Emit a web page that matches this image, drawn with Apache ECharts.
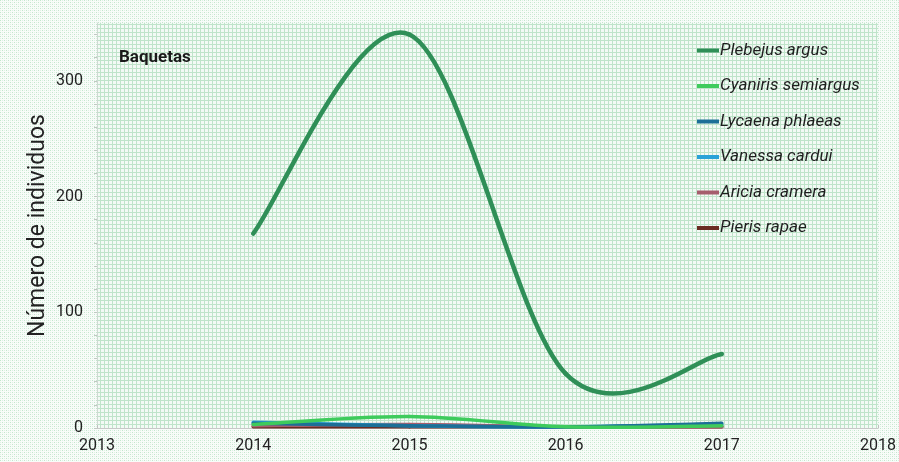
<!DOCTYPE html>
<html>
<head>
<meta charset="utf-8">
<script src="https://cdn.jsdelivr.net/npm/echarts@6/dist/echarts.min.js"></script>
<style>
html,body{margin:0;padding:0;background:#fff;}
#chart{width:899px;height:462px;}
</style>
</head>
<body>
<div id="chart"></div>
<script>
// ---- data ----
const years = [2014, 2015, 2016, 2017];
const seriesNames = ["Plebejus argus", "Cyaniris semiargus", "Lycaena phlaeas", "Vanessa cardui", "Aricia cramera", "Pieris rapae"];
const plebejusArgus = [168, 340, 47, 64];
const cyanirisSemiargus = [3, 10, 1, 2];
const lycaenaPhlaeas = [4, 2, 1, 4];
const vanessaCardui = [5, 2, 1, 3];
const ariciaCramera = [2, 3, 1, 1];
const pierisRapae = [1, 1, 1, 1];
const xTicks = [2013, 2014, 2015, 2016, 2017, 2018];
const yLabels = [0, 100, 200, 300];

const seriesValues = [plebejusArgus, cyanirisSemiargus, lycaenaPhlaeas, vanessaCardui, ariciaCramera, pierisRapae];
const colors = ["#2f8f57", "#3ecb5c", "#1c6f97", "#2aa2d8", "#a65e6e", "#6a2c22"];
const widths = [4.5, 3.5, 3.5, 3.5, 3.5, 3.5];

function makeTile(size, painter) {
  const c = document.createElement('canvas');
  c.width = size; c.height = size;
  const ctx = c.getContext('2d');
  painter(ctx);
  return c;
}
const outerTile = makeTile(4, ctx => {
  ctx.fillStyle = '#f8fcf9'; ctx.fillRect(0, 0, 4, 4);
  ctx.fillStyle = '#c3e6cd';
  ctx.fillRect(0, 0, 1, 1); ctx.fillRect(2, 2, 1, 1);
  ctx.fillStyle = '#dff1e5';
  ctx.fillRect(2, 0, 1, 1); ctx.fillRect(0, 2, 1, 1);
});
const innerTile = makeTile(4, ctx => {
  ctx.fillStyle = '#f3faf5'; ctx.fillRect(0, 0, 4, 4);
  ctx.fillStyle = '#bfe4ca';
  ctx.fillRect(0, 0, 4, 1); ctx.fillRect(0, 0, 1, 4);
});

// Smoothed (Catmull-Rom style) segment between data point k and k+1, drawn in the axis' pixel space
function makeRenderItem(si) {
  return function (params, api) {
    const k = params.dataIndex;
    const vals = seriesValues[si];
    const n = years.length;
    if (k >= n - 1) return null;
    const pt = j => api.coord([years[j], vals[j]]);
    const p0 = pt(Math.max(k - 1, 0));
    const p1 = pt(k);
    const p2 = pt(k + 1);
    const p3 = pt(Math.min(k + 2, n - 1));
    const cp1 = [p1[0] + (p2[0] - p0[0]) / 6, p1[1] + (p2[1] - p0[1]) / 6];
    const cp2 = [p2[0] - (p3[0] - p1[0]) / 6, p2[1] - (p3[1] - p1[1]) / 6];
    return {
      type: 'bezierCurve',
      shape: {x1: p1[0], y1: p1[1], x2: p2[0], y2: p2[1], cpx1: cp1[0], cpy1: cp1[1], cpx2: cp2[0], cpy2: cp2[1]},
      style: {stroke: colors[si], lineWidth: widths[si], fill: null, lineCap: 'round'}
    };
  };
}

const chart = echarts.init(document.getElementById('chart'), null, {renderer: 'canvas'});
chart.setOption({
  animation: false,
  backgroundColor: {image: outerTile, repeat: 'repeat'},
  textStyle: {fontFamily: 'Roboto, "Noto Sans", sans-serif'},
  grid: {
    left: 97, right: 14, top: 23, bottom: 34,
    show: true,
    backgroundColor: {image: innerTile, repeat: 'repeat'},
    borderWidth: 0
  },
  title: {
    text: 'Baquetas',
    left: 114, top: 44,
    textStyle: {fontSize: 17, fontWeight: 'bold', color: '#1a1a1a', fontFamily: 'Roboto, sans-serif'}
  },
  legend: {
    orient: 'vertical',
    left: 692, top: 37,
    itemGap: 18.5,
    itemWidth: 22, itemHeight: 4,
    icon: 'rect',
    data: seriesNames,
    textStyle: {fontSize: 17, fontStyle: 'italic', color: '#1e1e1e', padding: [0, 0, 0, -4]}
  },
  xAxis: {
    type: 'value',
    min: xTicks[0], max: xTicks[xTicks.length - 1], interval: 1,
    axisLine: {show: true, lineStyle: {color: '#c8c8c8', width: 1}},
    axisTick: {show: true, inside: true, length: 3, lineStyle: {color: '#c0c0c0'}},
    splitLine: {show: false},
    axisLabel: {fontSize: 16, color: '#222', margin: 10, formatter: v => String(v)}
  },
  yAxis: {
    type: 'value',
    min: 0, max: 350, interval: 20,
    name: 'Número de individuos',
    nameLocation: 'middle',
    nameGap: 47,
    nameMoveOverlap: false,
    nameTextStyle: {fontSize: 23, color: '#222'},
    axisLine: {show: true, lineStyle: {color: '#cfd8d2', width: 1}},
    axisTick: {show: true, length: 3, lineStyle: {color: '#c0c8c2'}},
    splitLine: {show: false},
    axisLabel: {
      fontSize: 16, color: '#222', margin: 14,
      showMaxLabel: false,
      formatter: v => (yLabels.indexOf(v) >= 0 ? String(v) : '')
    }
  },
  series: seriesNames.map((name, i) => ({
    name: name,
    type: 'custom',
    z: 10 - i,
    itemStyle: {color: colors[i]},
    encode: {x: 0, y: 1},
    renderItem: makeRenderItem(i),
    data: years.map((y, k) => [y, seriesValues[i][k]])
  }))
});
</script>
</body>
</html>
